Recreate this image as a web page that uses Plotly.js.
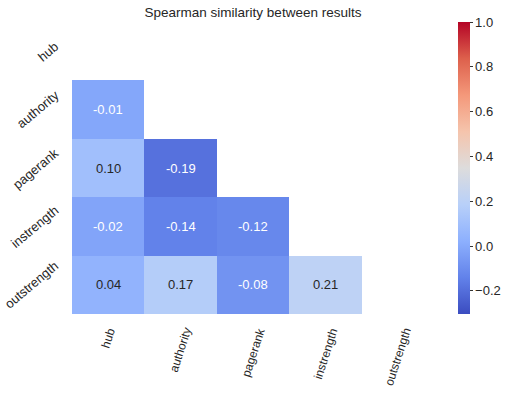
<!DOCTYPE html>
<html>
<head>
<meta charset="utf-8">
<script src="https://cdn.plot.ly/plotly-3.0.1.min.js"></script>
<style>
  body { margin: 0; background: #fff; }
  #chart { width: 512px; height: 394px; }
</style>
</head>
<body>
<div id="chart"></div>
<script>
var labels = ['hub', 'authority', 'pagerank', 'instrength', 'outstrength'];

// lower triangle only, upper part and diagonal are masked
var rowHub         = [null, null, null, null, null];
var rowAuthority   = [-0.01, null, null, null, null];
var rowPagerank    = [0.10, -0.19, null, null, null];
var rowInstrength  = [-0.02, -0.14, -0.12, null, null];
var rowOutstrength = [0.04, 0.17, -0.08, 0.21, null];

var zmin = -0.303, zmax = 1.0;

var coolwarm = [
  [0.0, '#3b4cc0'],
  [0.125, '#6282ea'],
  [0.25, '#8db0fe'],
  [0.375, '#b8d0f9'],
  [0.5, '#dddcdc'],
  [0.625, '#f5c4ac'],
  [0.75, '#f4987a'],
  [0.875, '#dd604c'],
  [1.0, '#b40426']
];

var z = [rowHub, rowAuthority, rowPagerank, rowInstrength, rowOutstrength];

var FONT = 'Liberation Sans, Arial, sans-serif';
var INK = '#262626';

function hexRgb(h) {
  return [parseInt(h.substr(1, 2), 16), parseInt(h.substr(3, 2), 16), parseInt(h.substr(5, 2), 16)];
}
function colorAt(v) {
  var t = (v - zmin) / (zmax - zmin);
  t = Math.max(0, Math.min(1, t));
  for (var i = 1; i < coolwarm.length; i++) {
    if (t <= coolwarm[i][0]) {
      var a = coolwarm[i - 1], b = coolwarm[i];
      var f = (t - a[0]) / (b[0] - a[0]);
      var ca = hexRgb(a[1]), cb = hexRgb(b[1]);
      return ca.map(function (c, k) { return c + f * (cb[k] - c); });
    }
  }
  return hexRgb(coolwarm[coolwarm.length - 1][1]);
}
function lum(rgb) {
  var c = rgb.map(function (x) {
    x = x / 255;
    return x <= 0.03928 ? x / 12.92 : Math.pow((x + 0.055) / 1.055, 2.4);
  });
  return 0.2126 * c[0] + 0.7152 * c[1] + 0.0722 * c[2];
}

// cell labels, dark text on light cells like seaborn does
var annotations = [];
z.forEach(function (row, i) {
  row.forEach(function (v, j) {
    if (v === null) return;
    annotations.push({
      x: labels[j], y: labels[i], xref: 'x', yref: 'y',
      text: v.toFixed(2),
      showarrow: false,
      font: { family: FONT, size: 13,
              color: lum(colorAt(v)) > 0.408 ? INK : '#ffffff' }
    });
  });
});

// rotated tick labels, centred on their tick like matplotlib does
labels.forEach(function (lab) {
  annotations.push({
    x: 0, xref: 'paper', y: lab, yref: 'y',
    xanchor: 'right', yanchor: 'middle', xshift: -9,
    text: lab, textangle: -40, showarrow: false, borderpad: 0,
    font: { family: FONT, size: 13, color: INK }
  });
  annotations.push({
    x: lab, xref: 'x', y: 0, yref: 'paper',
    xanchor: 'center', yanchor: 'top', yshift: -11,
    text: lab, textangle: -72, showarrow: false, borderpad: 0,
    font: { family: FONT, size: 12, color: INK }
  });
});

var trace = {
  type: 'heatmap',
  x: labels,
  y: labels,
  z: z,
  zmin: zmin,
  zmax: zmax,
  colorscale: coolwarm,
  hoverongaps: false,
  colorbar: {
    x: 1.063, xanchor: 'left', xpad: 0,
    y: 0.5, yanchor: 'middle', ypad: 0,
    len: 1, thickness: 12,
    outlinewidth: 0,
    tickvals: [-0.2, 0.0, 0.2, 0.4, 0.6, 0.8, 1.0],
    tickformat: '.1f',
    ticks: 'outside', ticklen: 3, tickcolor: '#333',
    tickfont: { family: FONT, size: 13, color: INK }
  }
};

var layout = {
  width: 512,
  height: 394,
  margin: { l: 72, r: 77, t: 22, b: 80 },
  paper_bgcolor: '#fff',
  plot_bgcolor: '#fff',
  title: {
    text: 'Spearman similarity between results',
    font: { family: FONT, size: 13.5, color: INK },
    x: 0.5, xref: 'paper', xanchor: 'center',
    y: 0.968, yref: 'container', yanchor: 'middle'
  },
  xaxis: {
    type: 'category',
    showticklabels: false,
    showgrid: false, zeroline: false, showline: false, ticks: ''
  },
  yaxis: {
    type: 'category',
    autorange: 'reversed',
    showticklabels: false,
    showgrid: false, zeroline: false, showline: false, ticks: ''
  },
  annotations: annotations
};

Plotly.newPlot('chart', [trace], layout, { displayModeBar: false, staticPlot: true });
</script>
</body>
</html>
